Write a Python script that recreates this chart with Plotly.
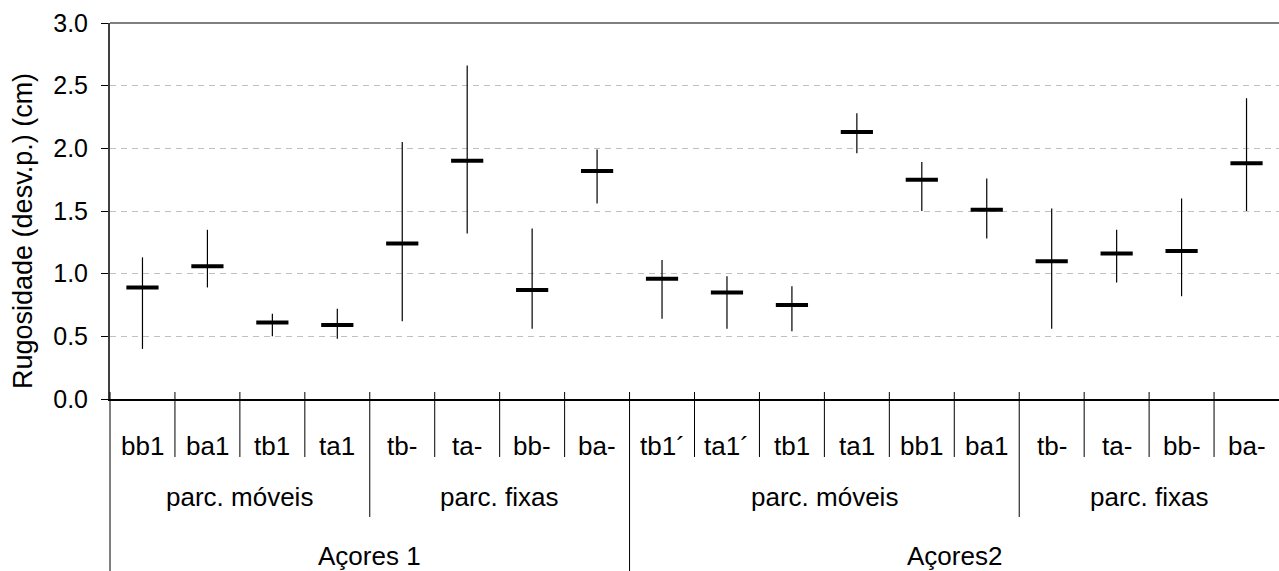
import plotly.graph_objects as go

# ---- data ----
labels = ["bb1", "ba1", "tb1", "ta1", "tb-", "ta-", "bb-", "ba-",
          "tb1´", "ta1´", "tb1", "ta1", "bb1", "ba1", "tb-", "ta-", "bb-", "ba-"]
group_parc = ["parc. móveis"] * 4 + ["parc. fixas"] * 4 + ["parc. móveis"] * 6 + ["parc. fixas"] * 4
group_site = ["Açores 1"] * 8 + ["Açores2"] * 10

mean_vals = [0.89, 1.06, 0.61, 0.59, 1.24, 1.90, 0.87, 1.82,
             0.96, 0.85, 0.75, 2.13, 1.75, 1.51, 1.10, 1.16, 1.18, 1.88]
max_vals = [1.13, 1.35, 0.68, 0.72, 2.05, 2.66, 1.36, 1.99,
            1.11, 0.98, 0.90, 2.28, 1.89, 1.76, 1.52, 1.35, 1.60, 2.40]
min_vals = [0.40, 0.89, 0.50, 0.48, 0.62, 1.32, 0.56, 1.56,
            0.64, 0.56, 0.54, 1.96, 1.50, 1.28, 0.56, 0.93, 0.82, 1.50]

y_ticks = [0.0, 0.5, 1.0, 1.5, 2.0, 2.5, 3.0]

# ---- layout constants ----
W, H = 1279, 571
ML, MR, MT, MB = 110, 0, 23, 172
ph = H - MT - MB
n = len(labels)
xs = list(range(n))


def py(Y):  # pixel y -> paper y
    return (H - MB - Y) / ph


fig = go.Figure()
fig.add_trace(go.Scatter(
    x=xs, y=mean_vals, mode="markers",
    marker=dict(symbol="line-ew", size=23, color="black",
                line=dict(width=4, color="black")),
    error_y=dict(type="data", symmetric=False,
                 array=[mx - m for mx, m in zip(max_vals, mean_vals)],
                 arrayminus=[m - mn for mn, m in zip(min_vals, mean_vals)],
                 width=0, thickness=1.2, color="black"),
    showlegend=False, hoverinfo="skip", cliponaxis=False,
))

shapes = []
annotations = []
font = dict(family="Liberation Sans, Arial", size=26, color="black")
tick_font = dict(family="Liberation Sans, Arial", size=25, color="black")

# top border line
shapes.append(dict(type="line", xref="paper", yref="paper", x0=0, x1=1, y0=1, y1=1,
                   line=dict(color="#808080", width=2)))

# separators
y_top = py(392)
lvl = {1: py(457), 2: py(517), 3: py(H)}
for k in range(0, n):
    if k == 0 or group_site[k] != group_site[k - 1]:
        depth = lvl[3]
    elif group_parc[k] != group_parc[k - 1]:
        depth = lvl[2]
    else:
        depth = lvl[1]
    xp = k / n
    shapes.append(dict(type="line", xref="paper", yref="paper", x0=xp, x1=xp,
                       y0=y_top, y1=depth, line=dict(color="black", width=1)))

# level 1 labels
for i, lab in enumerate(labels):
    annotations.append(dict(text=lab, xref="paper", yref="paper", x=(i + 0.5) / n,
                            y=py(446), showarrow=False, font=font,
                            xanchor="center", yanchor="middle"))


def spans(groups):
    out = []
    start = 0
    for i in range(1, n + 1):
        if i == n or groups[i] != groups[start] or group_site[i] != group_site[start]:
            out.append((start, i, groups[start]))
            start = i
    return out


for s, e, name in spans(group_parc):
    annotations.append(dict(text=name, xref="paper", yref="paper", x=(s + e) / 2 / n,
                            y=py(497), showarrow=False, font=font,
                            xanchor="center", yanchor="middle"))
for s, e, name in spans(group_site):
    annotations.append(dict(text=name, xref="paper", yref="paper", x=(s + e) / 2 / n,
                            y=py(556), showarrow=False, font=font,
                            xanchor="center", yanchor="middle"))

# y axis title
annotations.append(dict(text="Rugosidade (desv.p.) (cm)", xref="paper", yref="paper",
                        x=(23 - ML) / (W - ML - MR), y=py(231), textangle=-90,
                        showarrow=False, font=dict(family="Liberation Sans, Arial", size=27, color="black"),
                        xanchor="center", yanchor="middle"))

fig.update_layout(
    width=W, height=H,
    margin=dict(l=ML, r=MR, t=MT, b=MB),
    paper_bgcolor="white", plot_bgcolor="white",
    font=font,
    shapes=shapes, annotations=annotations,
    xaxis=dict(range=[-0.5, n - 0.5], showticklabels=False, ticks="",
               showgrid=False, zeroline=False, showline=True,
               linecolor="black", linewidth=2, fixedrange=True),
    yaxis=dict(range=[0, 3], tickvals=y_ticks, ticktext=[f"{v:.1f}" for v in y_ticks],
               ticks="outside", ticklen=7, tickcolor="black", tickwidth=1,
               ticklabelstandoff=8, tickfont=tick_font,
               showline=True, linecolor="#404040", linewidth=2,
               showgrid=True, gridcolor="#c0c0c0", griddash="6px,5px", gridwidth=1,
               zeroline=False, fixedrange=True),
)

fig.write_html("out.html")
